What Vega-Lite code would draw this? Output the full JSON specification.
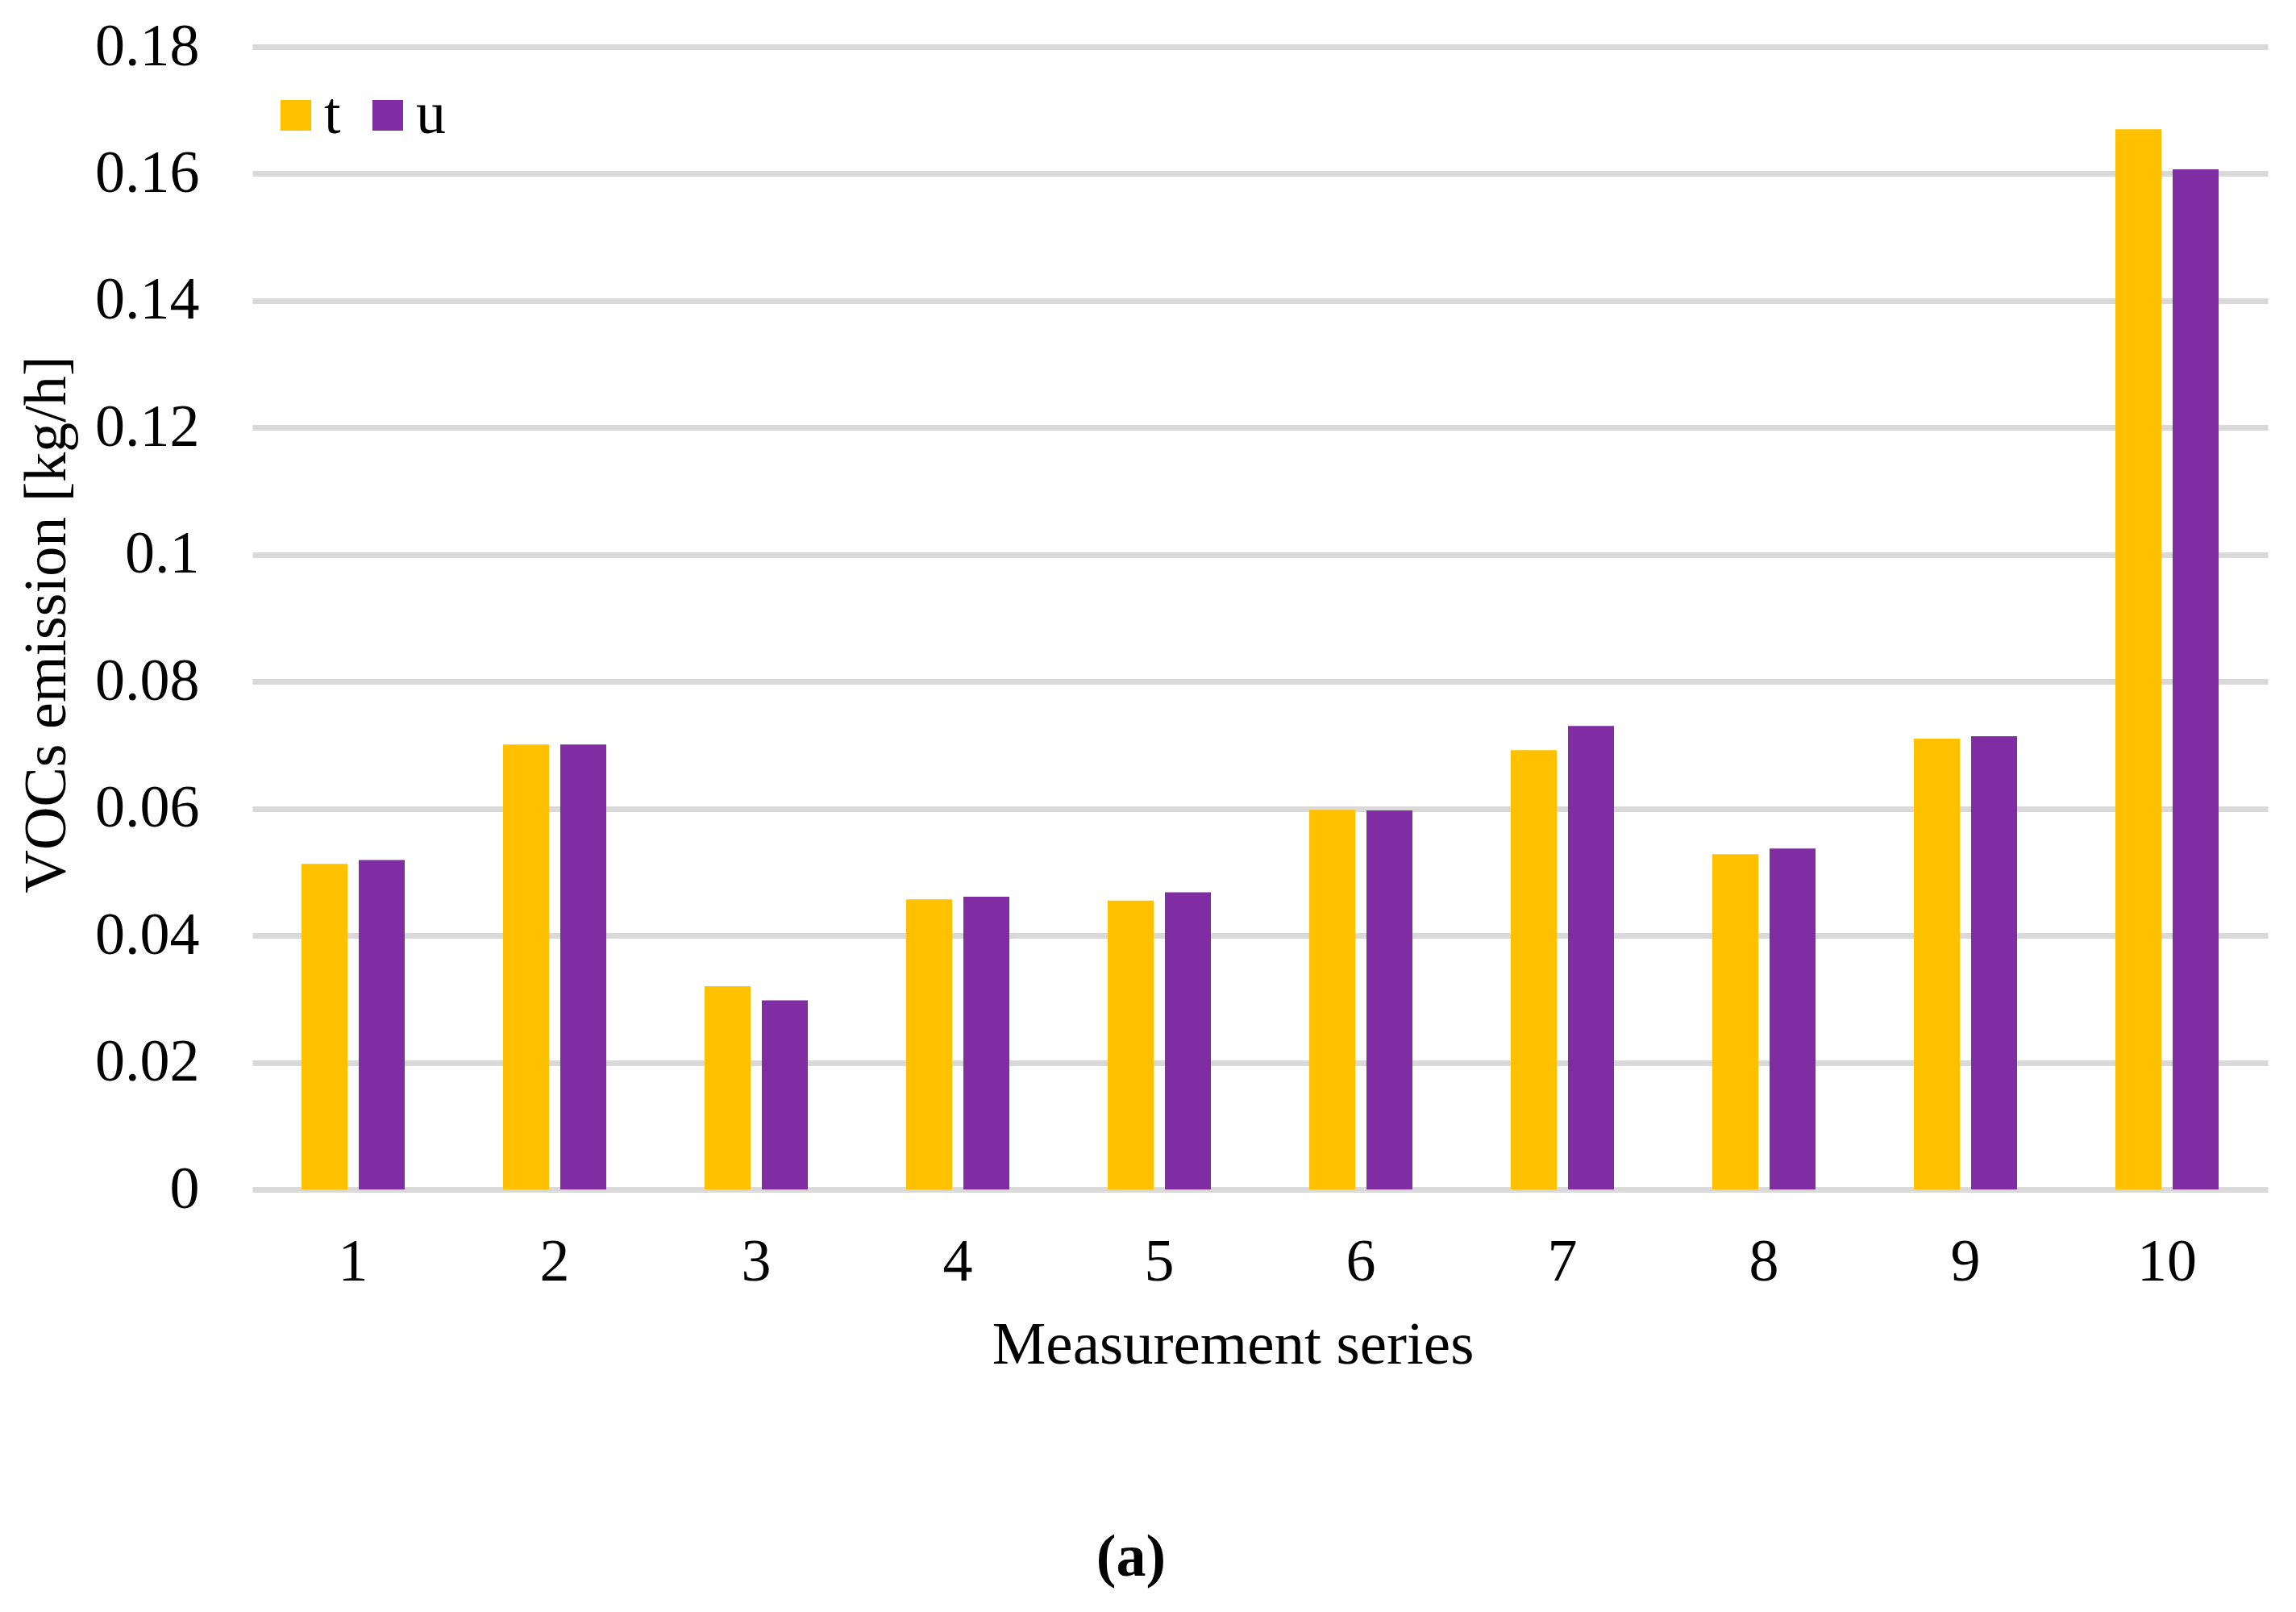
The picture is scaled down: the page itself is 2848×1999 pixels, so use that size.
{
  "$schema": "https://vega.github.io/schema/vega-lite/v6.json",
  "autosize": {"type": "none"},
  "width": 2500,
  "height": 1417,
  "padding": {"left": 313, "top": 58, "right": 35, "bottom": 524},
  "background": "white",
  "title": {
    "text": "(a)",
    "orient": "bottom",
    "anchor": "middle",
    "dx": -160,
    "offset": 191,
    "font": "Liberation Serif",
    "fontSize": 74,
    "fontWeight": "bold",
    "color": "black"
  },
  "data": {
    "values": [
      {"series": 1, "type": "t", "value": 0.0513},
      {"series": 1, "type": "u", "value": 0.0519},
      {"series": 2, "type": "t", "value": 0.0701},
      {"series": 2, "type": "u", "value": 0.0701},
      {"series": 3, "type": "t", "value": 0.0320},
      {"series": 3, "type": "u", "value": 0.0298},
      {"series": 4, "type": "t", "value": 0.0457},
      {"series": 4, "type": "u", "value": 0.0461},
      {"series": 5, "type": "t", "value": 0.0455},
      {"series": 5, "type": "u", "value": 0.0468},
      {"series": 6, "type": "t", "value": 0.0598},
      {"series": 6, "type": "u", "value": 0.0597},
      {"series": 7, "type": "t", "value": 0.0692},
      {"series": 7, "type": "u", "value": 0.0730},
      {"series": 8, "type": "t", "value": 0.0528},
      {"series": 8, "type": "u", "value": 0.0537},
      {"series": 9, "type": "t", "value": 0.0710},
      {"series": 9, "type": "u", "value": 0.0714},
      {"series": 10, "type": "t", "value": 0.1670},
      {"series": 10, "type": "u", "value": 0.1607}
    ]
  },
  "mark": {"type": "bar"},
  "encoding": {
    "x": {
      "field": "series",
      "type": "ordinal",
      "scale": {"paddingInner": 0.488, "paddingOuter": 0.244},
      "axis": {
        "title": "Measurement series",
        "labelAngle": 0,
        "domain": false,
        "ticks": false,
        "grid": false,
        "labelFont": "Liberation Serif",
        "labelFontSize": 74,
        "labelColor": "black",
        "labelBaseline": "alphabetic",
        "labelPadding": 112,
        "titleFont": "Liberation Serif",
        "titleFontSize": 75,
        "titleFontWeight": "normal",
        "titleColor": "black",
        "titleX": 1216,
        "titleY": 215,
        "titleBaseline": "alphabetic",
        "titleAlign": "center"
      }
    },
    "xOffset": {
      "field": "type",
      "type": "nominal",
      "scale": {"paddingInner": 0.197, "paddingOuter": 0}
    },
    "y": {
      "field": "value",
      "type": "quantitative",
      "scale": {"domain": [0, 0.18], "nice": false},
      "axis": {
        "title": "VOCs emission [kg/h]",
        "values": [0, 0.02, 0.04, 0.06, 0.08, 0.1, 0.12, 0.14, 0.16, 0.18],
        "format": "~g",
        "domain": false,
        "ticks": false,
        "gridColor": "#D9D9D9",
        "gridWidth": 7,
        "labelFont": "Liberation Serif",
        "labelFontSize": 74,
        "labelColor": "black",
        "labelPadding": 66,
        "titleFont": "Liberation Serif",
        "titleFontSize": 74,
        "titleFontWeight": "normal",
        "titleColor": "black",
        "titleX": -255,
        "titleY": 716,
        "titleAngle": -90,
        "titleAlign": "center",
        "titleBaseline": "middle"
      }
    },
    "color": {
      "field": "type",
      "type": "nominal",
      "scale": {"domain": ["t", "u"], "range": ["#FFC000", "#802CA3"]},
      "legend": {
        "title": null,
        "orient": "none",
        "legendX": 17,
        "legendY": 48,
        "direction": "horizontal",
        "symbolType": "square",
        "symbolSize": 1444,
        "symbolStrokeWidth": 0,
        "labelFont": "Liberation Serif",
        "labelFontSize": 74,
        "labelColor": "black",
        "labelOffset": -2,
        "columnPadding": 21,
        "padding": 0
      }
    }
  },
  "config": {
    "view": {"stroke": null}
  }
}
